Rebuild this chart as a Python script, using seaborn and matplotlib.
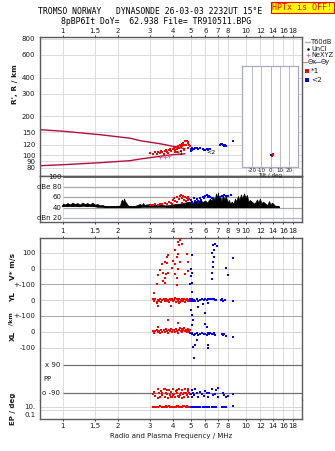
import numpy as np
import matplotlib
matplotlib.use("Agg")
import matplotlib.pyplot as plt
from matplotlib.ticker import NullLocator
import seaborn as sns

sns.set_theme(style="white")
plt.rcParams['font.family'] = ['DejaVu Sans']

# ---------------- data ----------------
freq_ticks = [1, 1.5, 2, 3, 4, 5, 6, 7, 8, 10, 12, 14, 16, 18]
freq_ticks_mid = [1, 1.5, 2, 3, 4, 5, 6, 7, 8, 9, 10, 12, 14, 16, 18]
height_ticks = [80, 90, 100, 120, 150, 200, 300, 400, 600, 800]
db_levels = [100, 80, 60, 40, 20]
db_labels = ["100", "dBe 80", "60", "40", "dBn 20"]
tilt_ticks = [-20, -10, 0, 10, 20]

curve_f = [0.75, 1.0, 1.6, 2.33, 2.64, 3.39, 3.85, 4.65]
curve_upper = [157.7, 153.5, 144.2, 135.5, 129.7, 122.8, 118.5, 112.3]
curve_lower = [82.9, 84.4, 87.5, 90.7, 93.4, 98.0, 100.5, 102.6]

o1 = [(3.0, 104), (3.1, 103), (3.2, 105), (3.25, 102), (3.3, 106), (3.4, 104), (3.45, 108),
      (3.5, 105), (3.6, 107), (3.65, 110), (3.7, 106), (3.8, 109), (3.85, 112), (3.9, 108),
      (4.0, 111), (4.05, 114), (4.1, 109), (4.15, 116), (4.2, 112), (4.25, 118), (4.3, 113),
      (4.35, 120), (4.4, 115), (4.45, 122), (4.5, 117), (4.55, 125), (4.6, 119), (4.65, 128),
      (4.7, 121), (4.75, 130), (4.8, 124), (4.85, 127), (4.9, 120), (4.6, 110), (4.4, 108),
      (4.2, 106), (4.8, 113), (4.95, 118), (3.55, 103), (3.75, 104), (4.1, 105)]
o1_f = [p[0] for p in o1]
o1_h = [p[1] for p in o1]

o2 = [(5.0, 112), (5.1, 113), (5.2, 112), (5.3, 114), (5.4, 113), (5.5, 112), (5.6, 113),
      (5.0, 108), (5.05, 110), (5.8, 111), (5.9, 110), (6.0, 109), (6.1, 111), (6.2, 110),
      (6.3, 112), (6.4, 111), (7.2, 121), (7.3, 123), (7.4, 122), (7.5, 119), (7.6, 118),
      (7.7, 119), (7.8, 118), (8.5, 130)]
o2_f = [p[0] for p in o2]
o2_h = [p[1] for p in o2]

nexyz_f = [3.4, 3.6, 3.8]
nexyz_h = [97, 97.5, 98]

tilt1_deg = [1.5, 2.0, 2.5]
tilt1_h = [98, 100, 102]
tilt2_deg = [0.5]
tilt2_h = [101]

noise = [(1.00, 43, 48), (1.03, 44, 46), (1.06, 43, 49), (1.096, 44, 46), (1.13, 43, 50),
         (1.167, 44, 47), (1.2, 43, 49), (1.243, 43, 46), (1.28, 44, 50), (1.323, 44, 47),
         (1.36, 43, 49), (1.409, 44, 46), (1.45, 43, 50), (1.501, 43, 46), (1.55, 42, 47),
         (1.598, 42, 44), (1.65, 42, 45), (1.701, 41, 43), (1.811, 41, 42), (1.929, 41, 43),
         (2.054, 41, 44), (2.08, 41, 52), (2.106, 41, 56), (2.13, 41, 50), (2.16, 41, 58),
         (2.19, 41, 52), (2.215, 41, 50), (2.272, 41, 44), (2.388, 41, 42), (2.511, 41, 44),
         (2.58, 41, 46), (2.641, 41, 47), (2.7, 42, 45), (2.742, 42, 49), (2.8, 42, 45),
         (2.848, 42, 46), (2.994, 42, 47), (3.189, 42, 45), (3.395, 42, 46), (3.615, 42, 44),
         (3.849, 41, 45), (4.1, 41, 47), (4.364, 41, 48), (4.648, 41, 50), (4.949, 41, 52),
         (5.1, 41, 48), (5.27, 41, 55), (5.45, 41, 50), (5.61, 41, 56), (5.8, 41, 51),
         (5.975, 41, 54), (6.15, 41, 50), (6.362, 41, 58), (6.5, 41, 53), (6.607, 41, 62),
         (6.75, 41, 55), (6.861, 41, 68), (6.95, 41, 60), (7.035, 41, 70), (7.12, 41, 58),
         (7.215, 41, 64), (7.35, 41, 52), (7.491, 41, 66), (7.6, 41, 56), (7.779, 41, 62),
         (7.95, 41, 50), (8.077, 41, 55), (8.2, 41, 48), (8.387, 41, 52), (8.55, 41, 47),
         (8.709, 41, 58), (8.85, 41, 52), (9.043, 41, 63), (9.2, 41, 55), (9.391, 41, 66),
         (9.55, 41, 58), (9.752, 41, 68), (9.95, 41, 60), (10.13, 41, 65), (10.3, 41, 52),
         (10.52, 41, 55), (11.06, 41, 48), (11.3, 41, 51), (11.48, 41, 56), (11.7, 41, 50),
         (11.92, 41, 58), (12.15, 41, 48), (12.38, 41, 52), (12.86, 41, 47), (13.1, 41, 45),
         (13.35, 41, 53), (13.6, 41, 46), (13.87, 41, 50), (14.4, 41, 44), (15.14, 41, 42)]
noise_f = [p[0] for p in noise]
noise_lo = [p[1] for p in noise]
noise_hi = [p[2] for p in noise]

dbe1 = [(3.0, 46), (3.1, 45), (3.2, 47), (3.3, 46), (3.4, 48), (3.5, 47), (3.6, 50), (3.7, 48),
        (3.8, 52), (3.9, 50), (4.0, 55), (4.05, 58), (4.1, 54), (4.2, 60), (4.3, 57), (4.35, 62),
        (4.4, 64), (4.5, 58), (4.55, 62), (4.6, 56), (4.65, 60), (4.7, 53), (4.75, 58), (4.8, 55),
        (4.85, 61), (4.9, 57), (4.2, 52), (4.5, 50), (3.95, 47)]
dbe1_f = [p[0] for p in dbe1]
dbe1_v = [p[1] for p in dbe1]

dbe2 = [(5.0, 55), (5.1, 52), (5.2, 58), (5.3, 54), (5.4, 57), (5.5, 53), (5.6, 59), (5.7, 56),
        (5.8, 60), (5.9, 58), (6.0, 62), (6.1, 64), (6.2, 60), (6.3, 63), (6.4, 61), (6.5, 59),
        (6.6, 58), (7.2, 60), (7.4, 62), (7.6, 64), (7.8, 63), (8.0, 62), (8.3, 65), (5.05, 50),
        (5.5, 49)]
dbe2_f = [p[0] for p in dbe2]
dbe2_v = [p[1] for p in dbe2]

vstar1 = [(3.74, 88), (3.69, 71), (3.62, 39), (3.47, 28), (3.39, -10), (3.51, -26), (3.32, -41),
          (3.25, -97), (3.54, -79), (3.62, -58), (3.65, -36), (4.28, 196), (4.37, 179), (4.24, 168),
          (4.46, 157), (4.31, 146), (4.1, 114), (4.28, 93), (4.19, 75), (3.76, 88), (4.01, 50),
          (4.1, 28), (4.37, 39), (3.93, 6), (4.28, -4), (3.76, -26), (4.1, -36), (4.75, 93),
          (4.85, 39), (4.81, -15), (4.65, -36), (4.19, -58), (4.19, -105), (3.6, -90), (3.69, 32)]
vstar1_f = [p[0] for p in vstar1]
vstar1_v = [p[1] for p in vstar1]

vstar2 = [(5.08, 88), (5.01, -2), (5.08, -26), (5.01, -47), (5.08, -90), (4.98, -100), (6.6, 146),
          (6.78, 158), (6.92, 140), (6.66, 75), (6.6, 39), (6.6, 11), (6.5, -26), (6.5, -67),
          (7.8, 6), (7.97, -41), (8.5, 69), (6.55, 100), (6.7, 120)]
vstar2_f = [p[0] for p in vstar2]
vstar2_v = [p[1] for p in vstar2]

yl1 = [(3.1, 5), (3.15, -3), (3.2, 8), (3.25, -10), (3.3, 2), (3.35, -6), (3.4, 4), (3.45, -12),
       (3.5, 0), (3.55, 6), (3.6, -4), (3.65, 10), (3.7, -8), (3.75, 3), (3.8, -15), (3.85, 5),
       (3.9, -2), (3.95, 8), (4.0, -6), (4.05, 0), (4.1, 12), (4.15, -10), (4.2, 4), (4.25, -5),
       (4.3, 9), (4.35, -14), (4.4, 2), (4.45, -7), (4.5, 6), (4.55, -3), (4.6, 10), (4.65, -12),
       (4.7, 0), (4.75, 5), (4.8, -8), (4.85, 3), (4.9, -4), (4.95, 7), (3.15, 44), (3.25, -17),
       (3.32, -38), (3.9, -40), (4.3, -20)]
yl1_f = [p[0] for p in yl1]
yl1_v = [p[1] for p in yl1]

yl2 = [(4.98, 5), (5.0, -3), (5.05, 8), (5.1, 2), (5.15, -6), (5.2, 0), (5.3, -4), (5.4, 6),
       (5.5, -8), (5.6, 2), (5.75, 4), (5.9, -2), (6.0, 6), (6.1, 3), (6.2, 5), (6.3, 7), (6.4, 4),
       (6.5, 6), (6.6, 5), (6.7, 4), (6.8, 3), (6.9, -2), (7.3, 2), (7.4, 4), (7.5, -3), (7.7, 0),
       (8.5, -8), (5.05, 50), (5.45, -44), (5.8, -25), (5.98, -82), (6.2, -17), (5.0, -60)]
yl2_f = [p[0] for p in yl2]
yl2_v = [p[1] for p in yl2]

xl1 = [(3.1, 2), (3.15, -5), (3.2, 4), (3.25, 10), (3.3, -3), (3.35, 6), (3.4, -6), (3.45, 12),
       (3.5, 0), (3.55, 8), (3.6, -4), (3.65, 15), (3.7, 2), (3.75, -8), (3.8, 10), (3.85, 4),
       (3.9, 18), (3.95, -2), (4.0, 8), (4.05, 14), (4.1, 0), (4.15, 20), (4.2, 6), (4.25, -6),
       (4.3, 12), (4.35, 24), (4.4, 4), (4.45, 16), (4.5, -4), (4.55, 10), (4.6, 22), (4.65, 2),
       (4.7, 14), (4.75, -3), (4.8, 8), (4.85, 18), (4.9, 0), (4.95, 10), (3.76, 74),
       (4.28, 55), (3.32, 32)]
xl1_f = [p[0] for p in xl1]
xl1_v = [p[1] for p in xl1]

xl2 = [(4.98, -8), (5.05, -15), (5.1, -10), (5.2, -20), (5.3, -12), (5.4, -8), (5.5, -18),
       (5.6, -14), (5.75, -10), (5.9, -16), (6.0, -12), (6.1, -20), (6.2, -10), (6.3, -14),
       (6.4, -8), (6.5, -16), (6.6, -12), (6.7, -10), (6.8, -18), (7.4, -13), (7.5, -20),
       (7.6, -16), (7.8, -25), (8.5, -32), (5.08, 105), (5.14, 75), (5.1, 42), (5.4, -53),
       (5.27, -84), (5.14, -95), (5.98, 49), (6.1, 32), (6.23, -103), (5.2, -166), (6.2, -84)]
xl2_f = [p[0] for p in xl2]
xl2_v = [p[1] for p in xl2]

pp1 = [(3.1, -95), (3.15, -80), (3.2, -105), (3.3, -60), (3.35, -90), (3.4, -115), (3.45, -75),
       (3.5, -100), (3.55, -65), (3.6, -110), (3.65, -85), (3.7, -95), (3.75, -120), (3.8, -70),
       (3.85, -100), (3.9, -80), (3.95, -110), (4.0, -60), (4.05, -95), (4.1, -115), (4.15, -75),
       (4.2, -90), (4.25, -105), (4.3, -65), (4.35, -100), (4.4, -85), (4.45, -120), (4.5, -70),
       (4.55, -95), (4.6, -110), (4.65, -60), (4.7, -90), (4.75, -100), (4.8, -75), (4.85, -115),
       (4.9, -85), (4.95, -95), (3.3, -120), (3.6, -60), (3.9, -110), (4.2, -70), (4.5, -120),
       (4.8, -65), (3.5, -90), (4.0, -100), (4.6, -85), (3.7, -70), (4.3, -110)]
pp1_f = [p[0] for p in pp1]
pp1_v = [p[1] for p in pp1]

pp2 = [(5.0, -95), (5.05, -70), (5.1, -110), (5.15, -85), (5.2, -100), (5.3, -65), (5.4, -90),
       (5.5, -115), (5.6, -80), (5.75, -95), (5.9, -105), (6.0, -75), (6.1, -90), (6.2, -110),
       (6.3, -85), (6.5, -60), (6.6, -100), (6.8, -95), (6.9, -70), (7.0, -115), (7.05, -55),
       (7.5, -85), (7.6, -100), (7.8, -110), (8.0, -105), (8.5, -95)]
pp2_f = [p[0] for p in pp2]
pp2_v = [p[1] for p in pp2]

ep1 = [(3.1, 10), (3.2, 11), (3.3, 10), (3.4, 12), (3.5, 10), (3.6, 11), (3.7, 10), (3.8, 12),
       (3.9, 10), (4.0, 11), (4.1, 10), (4.2, 13), (4.3, 10), (4.4, 11), (4.5, 10), (4.6, 12),
       (4.7, 10), (4.8, 11), (4.9, 10), (3.25, 9), (3.55, 10), (3.85, 9), (4.15, 11), (4.45, 9),
       (4.75, 12), (4.95, 10), (3.65, 18), (4.25, 20), (4.55, 16)]
ep1_f = [p[0] for p in ep1]
ep1_v = [p[1] for p in ep1]

ep2 = [(5.0, 10), (5.1, 8), (5.2, 11), (5.3, 10), (5.5, 9), (5.6, 10), (5.8, 8), (6.0, 10),
       (6.2, 9), (6.3, 11), (6.5, 10), (6.7, 8), (6.9, 10), (7.4, 9), (7.6, 7), (7.8, 9),
       (8.5, 14), (5.4, 7), (6.1, 7)]
ep2_f = [p[0] for p in ep2]
ep2_v = [p[1] for p in ep2]

# ---------------- styling / layout ----------------
W, H = 335, 451
RED, BLUE = "#ff0000", "#0000ff"
CURVE = "#b0103c"
GRID = "#d6d6d6"
GMID = "#a8a8a8"
FRAME = "#5a5a5a"
TXT = "#1a1a1a"
FS = 5.0
MS = 4.0
FMIN, FMAX = 0.747, 20.3
OFF_V, OFF_YL, OFF_XL, OFF_PP = 400, 200, 0, -300

fig = plt.figure(figsize=(W / 100, H / 100), dpi=100)
fig.patch.set_facecolor("white")


def rect(x0, y0, x1, y1):
    return [x0 / W, 1 - y1 / H, (x1 - x0) / W, (y1 - y0) / H]


def tick_fmt(t):
    return f"{t:g}"


X0, X1 = 39.5, 302.3
ax_main = fig.add_axes(rect(X0, 37, X1, 176))
ax_db = fig.add_axes(rect(X0, 176, X1, 222))
ax_low = fig.add_axes(rect(X0, 238, X1, 400))
ax_ep = fig.add_axes(rect(X0, 400, X1, 419))
ax_tilt = fig.add_axes(rect(241.7, 65.7, 297.7, 166.7))
ax_leg = fig.add_axes(rect(303, 37, 335, 90))

for ax in (ax_main, ax_db, ax_low, ax_ep):
    ax.set_xscale("log")
    ax.set_xlim(FMIN, FMAX)
    ax.xaxis.set_minor_locator(NullLocator())
    ax.set_facecolor("white")
    for s in ax.spines.values():
        s.set_color(FRAME)
        s.set_linewidth(1.0)
    ax.tick_params(axis="both", labelsize=FS, colors=TXT, length=0, pad=2)

# ---- main panel ----
ax_main.set_yscale("log")
ax_main.set_ylim(69, 825)
ax_main.yaxis.set_minor_locator(NullLocator())
ax_main.set_yticks(height_ticks)
ax_main.set_yticklabels([tick_fmt(t) for t in height_ticks])
ax_main.set_xticks(freq_ticks)
ax_main.set_xticklabels([tick_fmt(t) for t in freq_ticks])
ax_main.tick_params(axis="x", top=True, labeltop=True, bottom=False, labelbottom=False,
                    length=1.5, width=0.6, pad=0.5, colors=TXT)
ax_main.tick_params(axis="y", pad=3)
ax_main.grid(True, color=GRID, lw=0.6)
ax_main.set_axisbelow(True)

sns.lineplot(x=curve_f, y=curve_upper, ax=ax_main, color=CURVE, lw=1.0, sort=False,
             estimator=None)
sns.lineplot(x=curve_f, y=curve_lower, ax=ax_main, color=CURVE, lw=1.0, sort=False,
             estimator=None)
sns.scatterplot(x=o1_f, y=o1_h, ax=ax_main, color=RED, marker="s", s=MS, linewidth=0,
                legend=False, zorder=3)
sns.scatterplot(x=o2_f, y=o2_h, ax=ax_main, color=BLUE, marker="s", s=MS, linewidth=0,
                legend=False, zorder=3)
sns.scatterplot(x=nexyz_f, y=nexyz_h, ax=ax_main, color="#e0609a", marker="+", s=6,
                linewidth=0.6, legend=False, zorder=3)
ax_main.text(4.37, 103.6, "*1", fontsize=4.5, color="black", ha="center", va="center", zorder=4)
ax_main.text(6.45, 105.6, "<2", fontsize=4.5, color="black", ha="center", va="center", zorder=4)
ax_main.set_xlabel("")
ax_main.set_ylabel("")

# ---- tilt inset ----
ax_tilt.set_facecolor("white")
ax_tilt.set_xlim(-31, 29)
ax_tilt.set_yscale("log")
ax_tilt.set_ylim(81.5, 494)
ax_tilt.yaxis.set_minor_locator(NullLocator())
ax_tilt.set_yticks([])
ax_tilt.set_xticks(tilt_ticks)
ax_tilt.set_xticklabels([str(t) for t in tilt_ticks])
ax_tilt.tick_params(axis="x", labelsize=4.0, length=0, pad=1, colors=TXT)
ax_tilt.grid(True, axis="x", color="#b8b8cc", lw=0.7)
for s in ax_tilt.spines.values():
    s.set_color("#a8a8c0")
    s.set_linewidth(0.9)
sns.scatterplot(x=tilt1_deg, y=tilt1_h, ax=ax_tilt, color=RED, marker="s", s=2.5, linewidth=0,
                legend=False)
sns.scatterplot(x=tilt2_deg, y=tilt2_h, ax=ax_tilt, color=BLUE, marker="s", s=2.5, linewidth=0,
                legend=False)
ax_tilt.set_xlabel("Tilt / deg", fontsize=4.0, labelpad=0, color=TXT)
ax_tilt.set_ylabel("")

# ---- dB panel ----
ax_db.set_ylim(11.5, 102.5)
ax_db.set_yticks([])
ax_db.set_xticks(freq_ticks_mid)
ax_db.set_xticklabels([tick_fmt(t) for t in freq_ticks_mid])
ax_db.tick_params(axis="x", bottom=True, labelbottom=True, length=1.5, width=0.6, pad=2.5)
ax_db.grid(True, axis="x", color=GRID, lw=0.6)
ax_db.set_axisbelow(True)
db_colors = [FRAME, GMID, GMID, GMID, "#b4b4d4"]
db_widths = [1.3, 0.9, 0.9, 0.9, 0.9]
for lev, lab, c, w in zip(db_levels, db_labels, db_colors, db_widths):
    ax_db.hlines(lev, 1.0, FMAX, color=c, lw=w, zorder=1)
    ax_db.text(0.985, lev, lab, fontsize=FS, ha="right", va="center", color=TXT)
ax_db.fill_between(noise_f, noise_lo, noise_hi, color="black", lw=0.5, zorder=2)
ax_db.plot(noise_f, noise_lo, color="black", lw=1.4, zorder=2)
sns.scatterplot(x=dbe1_f, y=dbe1_v, ax=ax_db, color=RED, marker="s", s=MS, linewidth=0,
                legend=False, zorder=3)
sns.scatterplot(x=dbe2_f, y=dbe2_v, ax=ax_db, color=BLUE, marker="s", s=MS, linewidth=0,
                legend=False, zorder=3)
ax_db.set_xlabel("")
ax_db.set_ylabel("")

# ---- lower panel (V*, YL, XL, PP) ----
ax_low.set_ylim(-432, 593)
ax_low.spines["bottom"].set_visible(False)
low_ticks = [OFF_V + 100, OFF_V, OFF_V - 100, OFF_YL, OFF_YL - 100, OFF_XL, OFF_XL - 100]
low_labels = ["100", "0", "+-100", "0", "+-100", "0", "-100"]
ax_low.set_yticks(low_ticks)
ax_low.set_yticklabels(low_labels)
ax_low.tick_params(axis="y", pad=3)
ax_low.set_xticks(freq_ticks)
ax_low.set_xticklabels([])
ax_low.tick_params(axis="x", top=True, bottom=False, length=1.5, width=0.6)
ax_low.grid(True, axis="x", color=GRID, lw=0.6)
ax_low.set_axisbelow(True)
low_line_col = [GRID, GRID, GMID, GRID, GMID, GRID, GRID]
for yv, c in zip(low_ticks, low_line_col):
    ax_low.axhline(yv, color=c, lw=0.7, zorder=1)
for pv, lab in ((90, "x 90"), (-90, "o -90")):
    ax_low.hlines(pv + OFF_PP, 1.0, FMAX, color="#707070", lw=0.9, zorder=1)
    ax_low.text(0.97, pv + OFF_PP, lab, fontsize=FS, ha="right", va="center", color=TXT)
ax_low.text(0.78, OFF_PP, "PP", fontsize=FS, ha="left", va="center", color=TXT)

for fx, vy, off, col in ((vstar1_f, vstar1_v, OFF_V, RED), (vstar2_f, vstar2_v, OFF_V, BLUE),
                         (yl1_f, yl1_v, OFF_YL, RED), (yl2_f, yl2_v, OFF_YL, BLUE),
                         (xl1_f, xl1_v, OFF_XL, RED), (xl2_f, xl2_v, OFF_XL, BLUE),
                         (pp1_f, pp1_v, OFF_PP, RED), (pp2_f, pp2_v, OFF_PP, BLUE)):
    sns.scatterplot(x=fx, y=np.asarray(vy) + off, ax=ax_low, color=col, marker="s", s=MS,
                    linewidth=0, legend=False, zorder=3)
ax_low.set_xlabel("")
ax_low.set_ylabel("")

# ---- EP panel ----
ax_ep.set_yscale("log")
ax_ep.set_ylim(0.00427, 686)
ax_ep.yaxis.set_minor_locator(NullLocator())
ax_ep.spines["top"].set_visible(False)
ax_ep.set_yticks([10, 0.1])
ax_ep.set_yticklabels(["10.", "0.1"])
ax_ep.tick_params(axis="y", pad=3)
ax_ep.set_xticks(freq_ticks)
ax_ep.set_xticklabels([tick_fmt(t) for t in freq_ticks])
ax_ep.tick_params(axis="x", bottom=True, labelbottom=True, length=1.5, width=0.6, pad=1.5)
ax_ep.grid(True, axis="x", color=GRID, lw=0.6)
ax_ep.set_axisbelow(True)
for ev in (10, 1):
    ax_ep.axhline(ev, color=GRID, lw=0.7, zorder=1)
sns.scatterplot(x=ep1_f, y=ep1_v, ax=ax_ep, color=RED, marker="s", s=MS, linewidth=0,
                legend=False, zorder=3)
sns.scatterplot(x=ep2_f, y=ep2_v, ax=ax_ep, color=BLUE, marker="s", s=MS, linewidth=0,
                legend=False, zorder=3)
ax_ep.set_xlabel("Radio and Plasma Frequency / MHz", fontsize=FS, color=TXT, labelpad=3)
ax_ep.set_ylabel("")


# ---- axis titles (rotated) ----
def ylab(x, y, s, size=5.3):
    fig.text(x / W, 1 - y / H, s, rotation=90, fontsize=size, fontweight="bold",
             ha="center", va="center", color=TXT)


ylab(15, 84, "R', R / km")
ylab(13, 266, "V* m/s")
ylab(13, 297, "YL")
ylab(11, 319, "/km", 4.4)
ylab(13, 336, "XL")
ylab(13, 409, "EP / deg", 5.0)

# ---- header ----
fig.text(150 / W, 1 - 12 / H, "TROMSO NORWAY   DYNASONDE 26-03-03 2232UT 15°E",
         family="DejaVu Sans Mono", fontsize=5.9, ha="center", va="center", color="black")
fig.text(156 / W, 1 - 21 / H, "8pBP6It DoY=  62.938 File= TR910511.BPG",
         family="DejaVu Sans Mono", fontsize=5.9, ha="center", va="center", color="black")
fig.text(302.5 / W, 1 - 7.5 / H, "HPTx is OFF!", family="DejaVu Sans Mono", fontsize=6,
         ha="center", va="center", color="red",
         bbox=dict(boxstyle="square,pad=0.15", facecolor="#ffff00", edgecolor="red", lw=0.8))

# ---- right-hand legend ----
ax_leg.set_xlim(0, 32)
ax_leg.set_ylim(53, 0)
ax_leg.axis("off")
LF = 4.8
ax_leg.plot([2, 7], [4.7, 4.7], color="#b0b0b0", lw=1)
ax_leg.text(8, 4.7, "T60dB", fontsize=LF, va="center", color=TXT)
ax_leg.plot([5], [11.7], marker="o", ms=0.8, color="black")
ax_leg.text(8, 11.7, "UnCl", fontsize=LF, va="center", color=TXT)
ax_leg.plot([5], [18.3], marker="+", ms=3, mew=0.6, color="#e0609a")
ax_leg.text(8, 18.3, "NeXYZ", fontsize=LF, va="center", color=TXT)
ax_leg.plot([0, 4], [25, 25], color="#e07090", lw=0.8)
ax_leg.text(4.3, 25, "Θx", fontsize=LF, va="center", color=TXT)
ax_leg.plot([12, 17], [25, 25], color="#7070e0", lw=0.8)
ax_leg.text(17.3, 25, "Θy", fontsize=LF, va="center", color=TXT)
ax_leg.plot([3.7], [34], marker="s", ms=2.2, color=RED, mew=0)
ax_leg.text(8, 34, "*1", fontsize=5.3, va="center", color=TXT)
ax_leg.plot([3.7], [43], marker="s", ms=2.2, color=BLUE, mew=0)
ax_leg.text(8, 43, "<2", fontsize=5.3, va="center", color=TXT)

fig.savefig("out.png", dpi=100, facecolor="white")
